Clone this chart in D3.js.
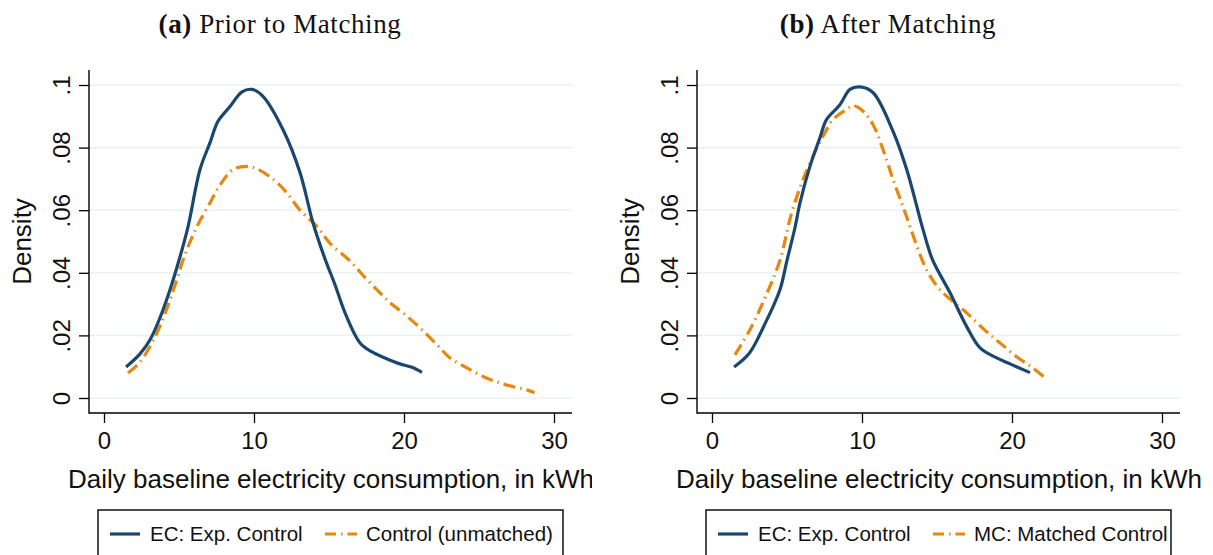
<!DOCTYPE html>
<html>
<head>
<meta charset="utf-8">
<script src="https://cdn.jsdelivr.net/npm/d3@7"></script>
<style>
  html, body { margin: 0; padding: 0; background: #fff; }
  svg { display: block; }
</style>
</head>
<body>
<svg id="chart" width="1213" height="555"></svg>
<script>
// ---- data ----
const xTicks = [0, 10, 20, 30];
const yTicks = [0, 0.02, 0.04, 0.06, 0.08, 0.1];
const yTickLabels = ["0", ".02", ".04", ".06", ".08", ".1"];

const panelTitlesBold = ["(a)", "(b)"];
const panelTitles = ["Prior to Matching", "After Matching"];
const legendEC = "EC: Exp. Control";
const legendControl = ["Control (unmatched)", "MC: Matched Control"];

// (a) EC: Exp. Control
const ecPriorX = [1.47, 2.4, 3.07, 3.73, 4.4, 5.0, 5.6, 6.4, 7.07, 7.6, 8.4, 9.2, 9.87, 10.6, 11.93, 13.07, 13.93, 14.73, 15.4, 16.07, 17.07, 17.87, 18.73, 19.73, 20.53, 21.2];
const ecPriorY = [0.0099, 0.0141, 0.0186, 0.0256, 0.0346, 0.0440, 0.0547, 0.0730, 0.0816, 0.0884, 0.0931, 0.0978, 0.0986, 0.0964, 0.0858, 0.0720, 0.0560, 0.0445, 0.0362, 0.0272, 0.0176, 0.0147, 0.0128, 0.0109, 0.0098, 0.0082];
// (a) Control (unmatched)
const ctrlX = [1.6, 2.4, 3.4, 4.07, 4.73, 5.4, 6.2, 7.07, 7.73, 8.6, 9.5, 10.2, 11.3, 12.2, 13.07, 14.2, 15.07, 16.4, 17.4, 18.4, 19.07, 19.93, 21.07, 22.2, 23.07, 24.2, 25.5, 26.8, 28.2, 28.7];
const ctrlY = [0.008, 0.0115, 0.0195, 0.027, 0.036, 0.0458, 0.0548, 0.0624, 0.068, 0.073, 0.074, 0.0732, 0.0698, 0.0655, 0.060, 0.0548, 0.0494, 0.0438, 0.0385, 0.0336, 0.0304, 0.0272, 0.0224, 0.017, 0.0128, 0.0096, 0.0064, 0.0042, 0.0026, 0.0017];
// (b) EC: Exp. Control
const ecAfterX = [1.47, 2.5, 3.5, 4.53, 5.0, 5.53, 5.87, 6.53, 7.2, 7.64, 8.5, 9.2, 9.87, 10.73, 12.07, 12.98, 14.07, 14.7, 15.87, 16.98, 17.87, 18.98, 19.87, 21.2];
const ecAfterY = [0.0099, 0.0144, 0.0234, 0.0346, 0.044, 0.0544, 0.0624, 0.074, 0.0832, 0.089, 0.0935, 0.0986, 0.0994, 0.0976, 0.0852, 0.073, 0.0538, 0.0442, 0.0336, 0.0228, 0.016, 0.0128, 0.0109, 0.0081];
// (b) MC: Matched Control
const mcX = [1.53, 2.53, 3.53, 4.53, 5.3, 6.07, 6.73, 7.4, 8.07, 8.98, 9.42, 10.07, 10.73, 11.4, 12.07, 12.73, 13.2, 13.7, 14.3, 15.2, 16.98, 18.3, 19.2, 20.3, 21.4, 22.3];
const mcY = [0.0138, 0.0218, 0.032, 0.0440, 0.059, 0.0698, 0.0772, 0.0836, 0.089, 0.0922, 0.0934, 0.0916, 0.0874, 0.0794, 0.0698, 0.0612, 0.0548, 0.0480, 0.0410, 0.0346, 0.0272, 0.0212, 0.0176, 0.0132, 0.0096, 0.006];

// ---- drawing ----
const NAVY = "#1a476f";
const ORANGE = "#e8870e";
const GRID = "#eaf2f3";
const svg = d3.select("#chart");

const panels = [
  {off: 0, clipW: 592, ec: [ecPriorX, ecPriorY], ct: [ctrlX, ctrlY]},
  {off: 608, clipW: 605, ec: [ecAfterX, ecAfterY], ct: [mcX, mcY]}
];

const defs = svg.append("defs");

panels.forEach((p, i) => {
  defs.append("clipPath").attr("id", "clip" + i)
    .append("rect").attr("x", 0).attr("y", 0).attr("width", p.clipW).attr("height", 555);

  const g = svg.append("g")
    .attr("clip-path", `url(#clip${i})`)
    .attr("transform", `translate(${p.off},0)`)
    .append("g");

  const left = 89, right = 572, top = 70, bottom = 413;
  const x = d3.scaleLinear().domain([0, 30]).range([104, 554]);
  const y = d3.scaleLinear().domain([0, 0.1]).range([398, 85]);

  // title
  const t = g.append("text")
    .attr("x", 280).attr("y", 33)
    .attr("text-anchor", "middle")
    .style("font-family", "'Liberation Serif', 'DejaVu Serif', serif")
    .style("font-size", "27px").style("letter-spacing", "0.6px").attr("fill", "#111");
  t.append("tspan").style("font-weight", "bold").text(panelTitlesBold[i]);
  t.append("tspan").text(" " + panelTitles[i]);

  // grid lines
  g.append("g").selectAll("line").data(yTicks).join("line")
    .attr("x1", left + 1).attr("x2", right)
    .attr("y1", d => y(d)).attr("y2", d => y(d))
    .attr("stroke", GRID).attr("stroke-width", 1.6);

  // y axis
  const yAxis = d3.axisLeft(y).tickValues(yTicks)
    .tickFormat((d, k) => yTickLabels[k]).tickSize(10).tickPadding(0);
  const ya = g.append("g").attr("transform", `translate(${left},0)`).call(yAxis);
  ya.select(".domain").remove();
  ya.selectAll(".tick line").attr("stroke", "#000").attr("stroke-width", 1.3);
  ya.selectAll(".tick text")
    .attr("x", 0).attr("dy", null)
    .attr("text-anchor", "middle")
    .attr("transform", d => `translate(-28,${0}) rotate(-90)`)
    .attr("dominant-baseline", "central")
    .style("font-family", "'Liberation Sans', Arial, sans-serif")
    .style("font-size", "24px").attr("fill", "#111");

  // x axis
  const xAxis = d3.axisBottom(x).tickValues(xTicks).tickSize(10).tickPadding(4);
  const xa = g.append("g").attr("transform", `translate(0,${bottom})`).call(xAxis);
  xa.select(".domain").remove();
  xa.selectAll(".tick line").attr("stroke", "#000").attr("stroke-width", 1.3);
  xa.selectAll(".tick text")
    .attr("dy", "0.9em")
    .style("font-family", "'Liberation Sans', Arial, sans-serif")
    .style("font-size", "24px").attr("fill", "#111");

  // axis lines
  g.append("line").attr("x1", left).attr("x2", left).attr("y1", top).attr("y2", bottom + 0.7)
    .attr("stroke", "#000").attr("stroke-width", 1.4);
  g.append("line").attr("x1", left).attr("x2", right).attr("y1", bottom).attr("y2", bottom)
    .attr("stroke", "#000").attr("stroke-width", 1.4);

  // axis titles
  g.append("text")
    .attr("transform", `translate(31,${(y(0) + y(0.1)) / 2}) rotate(-90)`)
    .attr("text-anchor", "middle")
    .style("font-family", "'Liberation Sans', Arial, sans-serif")
    .style("font-size", "26px").attr("fill", "#111")
    .text("Density");
  g.append("text")
    .attr("x", 68).attr("y", 488)
    .style("font-family", "'Liberation Sans', Arial, sans-serif")
    .style("font-size", "26px").attr("fill", "#111")
    .text("Daily baseline electricity consumption, in kWh");

  // curves
  const line = d3.line().x(d => x(d[0])).y(d => y(d[1])).curve(d3.curveCatmullRom.alpha(0.5));
  const ctPts = d3.zip(p.ct[0], p.ct[1]);
  const ecPts = d3.zip(p.ec[0], p.ec[1]);
  g.append("path").datum(ctPts).attr("d", line)
    .attr("fill", "none").attr("stroke", ORANGE).attr("stroke-width", 3.2)
    .attr("stroke-dasharray", "12,5,1.5,5");
  g.append("path").datum(ecPts).attr("d", line)
    .attr("fill", "none").attr("stroke", NAVY).attr("stroke-width", 3.2)
    .attr("stroke-linejoin", "round");

  // legend
  const lg = g.append("g");
  lg.append("rect").attr("x", 98).attr("y", 510).attr("width", 465).attr("height", 60)
    .attr("fill", "#fff").attr("stroke", "#000").attr("stroke-width", 1.4);
  lg.append("line").attr("x1", 110).attr("x2", 140).attr("y1", 534).attr("y2", 534)
    .attr("stroke", NAVY).attr("stroke-width", 3.2);
  lg.append("text").attr("x", 150).attr("y", 541)
    .style("font-family", "'Liberation Sans', Arial, sans-serif")
    .style("font-size", "20.5px").attr("fill", "#111").text(legendEC);
  lg.append("line").attr("x1", 325).attr("x2", 357).attr("y1", 534).attr("y2", 534)
    .attr("stroke", ORANGE).attr("stroke-width", 3)
    .attr("stroke-dasharray", "11,5,1.5,5");
  lg.append("text").attr("x", 366).attr("y", 541)
    .style("font-family", "'Liberation Sans', Arial, sans-serif")
    .style("font-size", "20.5px").attr("fill", "#111").text(legendControl[i]);
});
</script>
</body>
</html>
